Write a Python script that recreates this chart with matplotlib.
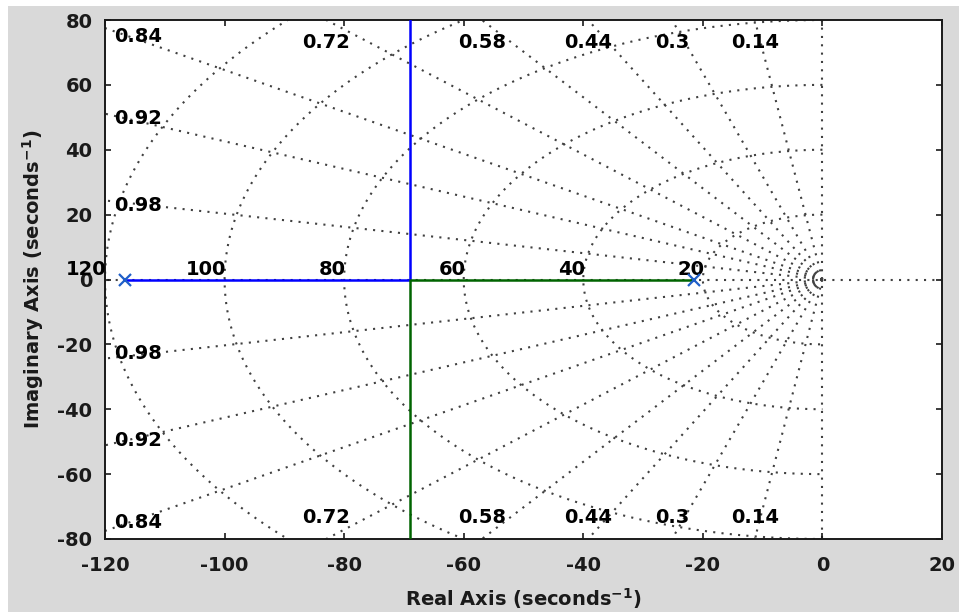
import numpy as np
import matplotlib.pyplot as plt
from matplotlib.patches import Rectangle

# Root locus data (open-loop poles) and sgrid values
poles = [-116.6, -21.4]
zetas = [0.14, 0.3, 0.44, 0.58, 0.72, 0.84, 0.92, 0.98]
wn_circles = [20, 40, 60, 80, 100, 120]
x_ticks = [-120, -100, -80, -60, -40, -20, 0, 20]
y_ticks = [-80, -60, -40, -20, 0, 20, 40, 60, 80]

plt.rcParams['font.family'] = 'DejaVu Sans'
plt.rcParams['font.weight'] = 'bold'
plt.rcParams['axes.labelweight'] = 'bold'
plt.rcParams['axes.unicode_minus'] = False
plt.rcParams['mathtext.default'] = 'bf'

fig = plt.figure(figsize=(9.59, 6.12), dpi=100, facecolor='white')
fig.patches.append(Rectangle((8 / 959, 0), 1, 1 - 6 / 612, transform=fig.transFigure,
                             facecolor='#d9d9d9', edgecolor='none', zorder=-10))
ax = fig.add_axes([105 / 959, 1 - 539 / 612, 837 / 959, 519 / 612])
ax.set_facecolor('white')

grid_style = dict(color='0.25', linewidth=1.5, linestyle=(0, (1, 3)), zorder=1)
far = 400

# damping ratio rays
for z in zetas:
    th = np.arccos(z)
    ax.plot([0, -far * np.cos(th)], [0, far * np.sin(th)], **grid_style)
    ax.plot([0, -far * np.cos(th)], [0, -far * np.sin(th)], **grid_style)

# natural frequency semicircles
phi = np.linspace(np.pi / 2, 3 * np.pi / 2, 600)
for r in wn_circles:
    ax.plot(r * np.cos(phi), r * np.sin(phi), **grid_style)

# real and imaginary axes
ax.plot([-far, far], [0, 0], **grid_style)
ax.plot([0, 0], [-far, far], **grid_style)

# damping labels
fs = 14
for z in zetas:
    t = np.tan(np.arccos(z))
    x_top = -80 / t
    if x_top >= -120:
        ax.text(x_top, 73, str(z), ha='center', va='center', fontsize=fs, zorder=3)
        ax.text(x_top, -73.5, str(z), ha='center', va='center', fontsize=fs, zorder=3)
    else:
        yl = min(120 * t - 1.5, 75)
        ax.text(-118.5, yl, str(z), ha='left', va='center', fontsize=fs, zorder=3)
        ax.text(-118.5, -yl, str(z), ha='left', va='center', fontsize=fs, zorder=3)

# natural frequency labels
for r in wn_circles:
    ax.text(-r + 0.3, 1.4, str(r), ha='right', va='baseline', fontsize=fs, zorder=3)

# root locus branches
bk = np.mean(poles)
ax.plot([poles[0], bk, bk], [0, 0, far], color='#0000ff', linewidth=1.8, zorder=4)
ax.plot([poles[1], bk, bk], [0, 0, -far], color='#006400', linewidth=1.8, zorder=4)
ax.plot(poles, [0, 0], linestyle='none', marker='x', color='#1f5fc8',
        markersize=9, markeredgewidth=1.6, zorder=5)

ax.set_xlim(-120, 20)
ax.set_ylim(-80, 80)
ax.set_xticks(x_ticks)
ax.set_yticks(y_ticks)
ax.tick_params(direction='in', length=4, width=1.2, top=True, right=True,
               labelsize=fs, colors='#1a1a1a')
ax.tick_params(axis='x', pad=12)
ax.tick_params(axis='y', pad=9)
for s in ax.spines.values():
    s.set_linewidth(1.4)
    s.set_color('#1a1a1a')

ax.set_xlabel('Real Axis (seconds$^{-1}$)', fontsize=fs, fontweight='bold', color='#1a1a1a')
ax.set_ylabel('Imaginary Axis (seconds$^{-1}$)', fontsize=fs, fontweight='bold', color='#1a1a1a')
ax.xaxis.set_label_coords(0.5, -0.09)
ax.yaxis.set_label_coords(-0.07, 0.5)

fig.savefig('out.png', dpi=100, facecolor=fig.get_facecolor())
